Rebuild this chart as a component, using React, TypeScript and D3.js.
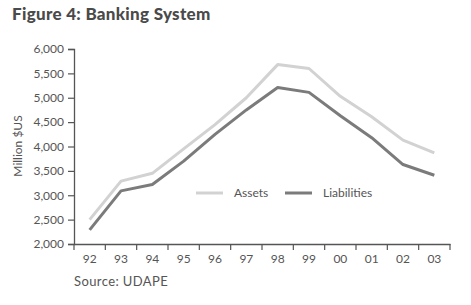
import React, { useEffect, useRef } from "react";
import * as d3 from "d3";

const years = ["92", "93", "94", "95", "96", "97", "98", "99", "00", "01", "02", "03"];
const assets = [2500, 3290, 3450, 3950, 4450, 5000, 5680, 5600, 5030, 4610, 4130, 3870];
const liabilities = [2290, 3090, 3220, 3700, 4250, 4750, 5210, 5110, 4630, 4180, 3630, 3410];
const yTicks = [2000, 2500, 3000, 3500, 4000, 4500, 5000, 5500, 6000];
const seriesNames = ["Assets", "Liabilities"];

const W = 471;
const H = 305;
const FONT = "Lato, 'Open Sans', sans-serif";

export default function App() {
  const ref = useRef<SVGSVGElement | null>(null);

  useEffect(() => {
    const svg = d3.select(ref.current);
    svg.selectAll("*").remove();

    const left = 74, right = 450, top = 49, bottom = 244;
    const x = d3.scaleBand<string>().domain(years).range([left, right]);
    const y = d3.scaleLinear().domain([2000, 6000]).range([bottom, top]);

    svg.append("rect").attr("width", W).attr("height", H).attr("fill", "#ffffff");

    svg.append("text")
      .attr("x", 12).attr("y", 20)
      .attr("font-family", FONT).attr("font-weight", 900).attr("font-size", 17)
      .attr("letter-spacing", 0.3)
      .attr("fill", "#4a4a4a")
      .text("Figure 4: Banking System");

    const yAxis = d3.axisLeft(y).tickValues(yTicks).tickFormat(d3.format(",")).tickSize(6).tickPadding(4);
    const gy = svg.append("g").attr("transform", `translate(${left},0)`).call(yAxis);
    gy.select(".domain").attr("stroke", "#555").attr("stroke-width", 1.3);
    gy.selectAll(".tick line").attr("stroke", "#555").attr("stroke-width", 1.2);
    gy.selectAll(".tick text").attr("font-family", FONT).attr("font-size", 12).attr("fill", "#555");

    const xAxis = d3.axisBottom(x).tickSize(0).tickPadding(10);
    const gx = svg.append("g").attr("transform", `translate(0,${bottom})`).call(xAxis);
    gx.select(".domain").attr("stroke", "#555").attr("stroke-width", 1.3);
    gx.selectAll(".tick text").attr("font-family", FONT).attr("font-size", 12).attr("fill", "#555");
    // category separators
    const bounds = years.map((d) => x(d) as number).concat([right]);
    svg.append("g").selectAll("line").data(bounds).join("line")
      .attr("x1", (d) => d).attr("x2", (d) => d)
      .attr("y1", bottom).attr("y2", bottom + 6)
      .attr("stroke", "#555").attr("stroke-width", 1.2);

    const line = d3.line<number>()
      .x((_, i) => (x(years[i]) as number) + x.bandwidth() / 2)
      .y((d) => y(d));

    svg.append("path").attr("d", line(assets)).attr("fill", "none")
      .attr("stroke", "#d2d2d2").attr("stroke-width", 3).attr("stroke-linejoin", "round");
    svg.append("path").attr("d", line(liabilities)).attr("fill", "none")
      .attr("stroke", "#7b7b7b").attr("stroke-width", 3).attr("stroke-linejoin", "round");

    // legend
    const legY = 193;
    const leg = [
      { name: seriesNames[0], color: "#d2d2d2", x0: 196 },
      { name: seriesNames[1], color: "#7b7b7b", x0: 285 },
    ];
    leg.forEach((l) => {
      svg.append("line").attr("x1", l.x0).attr("x2", l.x0 + 27).attr("y1", legY).attr("y2", legY)
        .attr("stroke", l.color).attr("stroke-width", 3);
      svg.append("text").attr("x", l.x0 + 38).attr("y", legY + 4)
        .attr("font-family", FONT).attr("font-size", 12).attr("fill", "#555").text(l.name);
    });

    svg.append("text")
      .attr("transform", `translate(22,146) rotate(-90)`)
      .attr("text-anchor", "middle")
      .attr("font-family", FONT).attr("font-size", 12).attr("fill", "#555")
      .text("Million $US");

    svg.append("text").attr("x", 74).attr("y", 286)
      .attr("font-family", FONT).attr("font-size", 13).attr("letter-spacing", 0.4).attr("fill", "#555")
      .text("Source: UDAPE");
  }, []);

  return (
    <svg ref={ref} width={W} height={H} style={{ position: "absolute", left: 0, top: 0 }} />
  );
}
